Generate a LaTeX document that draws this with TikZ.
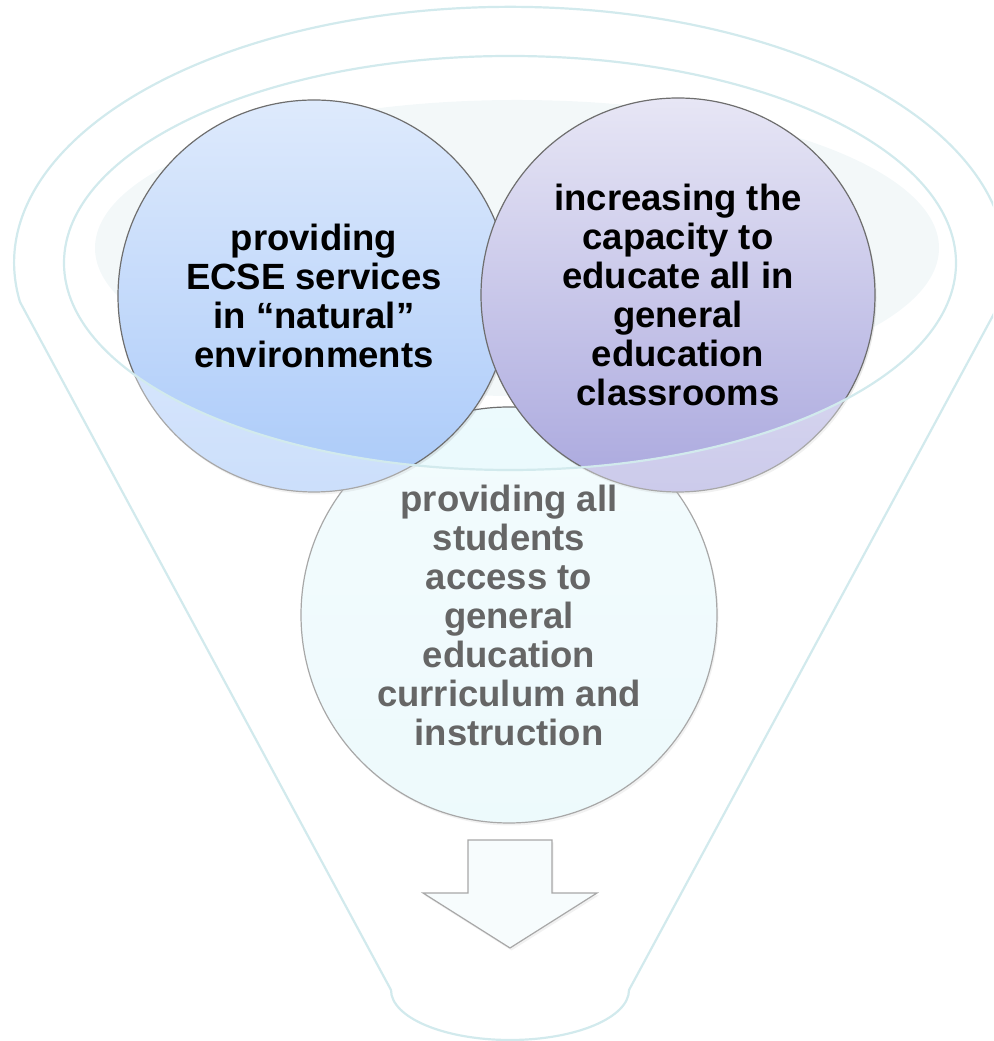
\documentclass[tikz,border=0pt]{standalone}
\usepackage{fontspec}
\setmainfont{Liberation Sans}
\usetikzlibrary{shadows}
\definecolor{rim}{RGB}{210,234,237}
\definecolor{pale}{RGB}{243,248,249}
\definecolor{edge}{RGB}{110,110,110}
\definecolor{blueT}{RGB}{222,234,252}
\definecolor{blueB}{RGB}{170,202,249}
\definecolor{violT}{RGB}{231,230,245}
\definecolor{violB}{RGB}{170,168,222}
\definecolor{cyanT}{RGB}{236,250,253}
\definecolor{cyanB}{RGB}{226,247,251}
\definecolor{arrowfill}{RGB}{243,250,252}
\begin{document}
\begin{tikzpicture}[x=1pt,y=1pt,
  softshadow/.style={drop shadow={shadow xshift=1.5pt, shadow yshift=-2.5pt, opacity=0.18}},
  ball/.style={circle, draw=edge, line width=1.2pt, inner sep=0pt, align=center,
     font=\fontsize{36.5}{39}\selectfont\bfseries, text=black, softshadow},
  rimline/.style={draw=rim, line width=2.2pt, line join=round}]
\clip (0,0) rectangle (993,1041);
% pale backdrop inside the funnel mouth
\fill[pale] (517,793) ellipse [x radius=422, y radius=148];
% circles
\node[ball, minimum size=416pt, top color=cyanT, bottom color=cyanB] (c3) at (509,426)
  {providing all\\students\\access to\\general\\education\\curriculum and\\instruction};
\node[ball, minimum size=392pt, top color=blueT, bottom color=blueB] (c1) at (314,745)
  {providing\\ECSE services\\in “natural”\\environments};
\node[ball, minimum size=394pt, top color=violT, bottom color=violB] (c2) at (678,746)
  {increasing the\\capacity to\\educate all in\\general\\education\\classrooms};
% down arrow
\filldraw[fill=arrowfill, draw=edge, line width=1.2pt, softshadow]
  (468,201) -- (552,201) -- (552,148) -- (597,148) -- (510,93) -- (423,148) -- (468,148) -- cycle;
% translucent funnel body
\fill[white, fill opacity=0.4, even odd rule]
  (20,739) arc[start angle=188.8, end angle=-8.8, x radius=496, y radius=256]
  -- (629,51) arc[start angle=0, end angle=-180, x radius=119, y radius=50] -- cycle
  (510,778) ellipse [x radius=446, y radius=207];
% funnel outlines
\draw[rimline] (510,778) ellipse [x radius=446, y radius=207];
\draw[rimline]
  (20,739) arc[start angle=188.8, end angle=-8.8, x radius=496, y radius=256]
  -- (629,51) arc[start angle=0, end angle=-180, x radius=119, y radius=50] -- cycle;
\end{tikzpicture}
\end{document}
